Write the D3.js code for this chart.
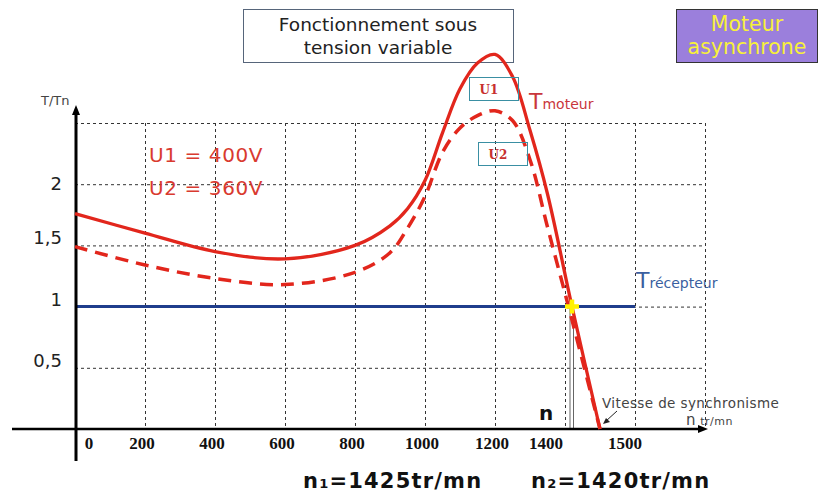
<!DOCTYPE html>
<html><head><meta charset="utf-8">
<script src="https://cdn.jsdelivr.net/npm/d3@7"></script>
<style>body{margin:0;background:#fff}svg{display:block}</style>
</head><body>
<svg id="c" width="821" height="493"></svg>
<script>
// ---- data ----
const speedsU1 = [0,200,400,600,800,900,950,1000,1050,1100,1150,1200,1250,1300,1350,1420,1500];
const torqueU1 = [1.76,1.60,1.45,1.39,1.50,1.66,1.80,2.03,2.42,2.78,2.99,3.06,2.88,2.44,1.92,1.00,0];
const speedsU2 = [0,200,400,600,800,900,950,1000,1050,1100,1150,1200,1250,1300,1350,1410,1500];
const torqueU2 = [1.49,1.34,1.23,1.18,1.28,1.44,1.64,1.90,2.26,2.46,2.56,2.60,2.52,2.20,1.65,1.00,0];
const xTickValues = [0,200,400,600,800,1000,1200,1400,1500];
const xTickLabels = ["0","200","400","600","800","1000","1200","1400","1500"];
const xGridValues = [200,400,600,800,1000,1200,1400,1600,1800];
const yTickValues = [0.5,1,1.5,2];
const yTickLabels = ["0,5","1","1,5","2"];
const yGridValues = [0.5,1,1.5,2,2.5];
const receptorTorque = 1;
const receptorEnd = 1600;
const operatingSpeed = 1420;
const syncSpeed = 1500;

const svg = d3.select("#c");
svg.append("rect").attr("width",821).attr("height",493).attr("fill","#fff");

const x = d3.scaleLinear().domain([0,1800]).range([75,705]);
const y = d3.scaleLinear().domain([0,2.5]).range([429,123]);

const red = "#e2261c";

// title box (drawn under the curves)
svg.append("rect").attr("x",243.5).attr("y",9.5).attr("width",270).attr("height",53).attr("fill","#fff").attr("stroke","#56657a").attr("stroke-width",1);
[["Fonctionnement sous",31],["tension variable",54]].forEach(([t,yy])=>{
  svg.append("text").attr("x",378).attr("y",yy).attr("text-anchor","middle").attr("font-family","DejaVu Sans").attr("font-size",18.5).attr("fill","#222").text(t);
});
// motor box
svg.append("rect").attr("x",676.5).attr("y",9.5).attr("width",141).attr("height",53).attr("fill","#9b7fdc").attr("stroke","#333").attr("stroke-width",1);
[["Moteur",31],["asynchrone",54]].forEach(([t,yy])=>{
  svg.append("text").attr("x",747).attr("y",yy).attr("text-anchor","middle").attr("font-family","DejaVu Sans").attr("font-size",20.5).attr("fill","#f7f03a").text(t);
});

const grid = svg.append("g").attr("stroke","#333").attr("stroke-width",1).attr("stroke-dasharray","3,3");
yGridValues.forEach(v=>{
  grid.append("line").attr("x1",x(0)).attr("x2",x(1800)).attr("y1",y(v)+0.5).attr("y2",y(v)+0.5);
});
xGridValues.forEach(v=>{
  grid.append("line").attr("x1",x(v)+0.5).attr("x2",x(v)+0.5).attr("y1",y(2.5)).attr("y2",y(0));
});

// receptor torque line
svg.append("line").attr("x1",x(0)).attr("x2",x(receptorEnd)).attr("y1",y(receptorTorque)).attr("y2",y(receptorTorque))
  .attr("stroke","#1f3d8c").attr("stroke-width",3);

// operating point double line
[-2,1.5].forEach(d=>{
  svg.append("line").attr("x1",x(operatingSpeed)+d).attr("x2",x(operatingSpeed)+d)
    .attr("y1",y(receptorTorque)).attr("y2",y(0)).attr("stroke","#666").attr("stroke-width",1);
});

// axes
svg.append("line").attr("x1",12).attr("x2",x(1800)-6).attr("y1",y(0)).attr("y2",y(0)).attr("stroke","#000").attr("stroke-width",2.5);
svg.append("path").attr("d",`M${x(1800)+3},${y(0)} l-10,-4 v8 z`).attr("fill","#000");
svg.append("line").attr("x1",x(0)+1).attr("x2",x(0)+1).attr("y1",461).attr("y2",y(2.5)-10).attr("stroke","#000").attr("stroke-width",3);
svg.append("path").attr("d",`M${x(0)+1},${y(2.5)-18} l-4,10 h8 z`).attr("fill","#000");

// curves
const line = d3.line().x(d=>x(d[0])).y(d=>y(d[1])).curve(d3.curveCatmullRom.alpha(0.5));
svg.append("path").datum(d3.zip(speedsU2,torqueU2)).attr("d",line)
  .attr("fill","none").attr("stroke",red).attr("stroke-width",3.5).attr("stroke-dasharray","13,8");
svg.append("path").datum(d3.zip(speedsU1,torqueU1)).attr("d",line)
  .attr("fill","none").attr("stroke",red).attr("stroke-width",3.3);

// yellow cross
const cx = x(operatingSpeed), cy = y(receptorTorque);
svg.append("path").attr("d",`M${cx-7},${cy}H${cx+7}M${cx},${cy-7}V${cy+7}`).attr("stroke","#fff200").attr("stroke-width",4.5);

// tick labels
const xdx = v => v===0 ? 14 : v===1400 ? -19 : v===1500 ? 25 : -3;
svg.append("g").selectAll("text").data(xTickValues).join("text")
  .attr("x",d=>x(d)+xdx(d)).attr("y",449).attr("text-anchor","middle")
  .attr("font-family","Liberation Serif").attr("font-weight","bold").attr("font-size",17).attr("fill","#111")
  .text((d,i)=>xTickLabels[i]);
svg.append("g").selectAll("text").data(yTickValues).join("text")
  .attr("x",62).attr("y",d=>y(d)+ (d===2?6:-1)).attr("text-anchor","end")
  .attr("font-family","DejaVu Sans").attr("font-size",18).attr("fill","#222")
  .text((d,i)=>yTickLabels[i]);

svg.append("text").attr("x",41).attr("y",105).attr("font-family","DejaVu Sans").attr("font-size",13).attr("fill","#444").text("T/Tn");

// voltages
[["U1 = 400V",162],["U2 = 360V",195]].forEach(([t,yy])=>{
  svg.append("text").attr("x",149).attr("y",yy).attr("font-family","DejaVu Sans").attr("font-size",20)
    .attr("letter-spacing",0.6).attr("fill","#d93a2f").text(t);
});

// U1/U2 boxes
[["U1",469,77],["U2",478,142]].forEach(([t,bx,by])=>{
  svg.append("rect").attr("x",bx+0.5).attr("y",by+0.5).attr("width",49).attr("height",23).attr("fill","none").attr("stroke","#3a8fa3").attr("stroke-width",1);
  svg.append("text").attr("x",bx+20).attr("y",by+16.5).attr("text-anchor","middle").attr("font-family","DejaVu Serif").attr("font-weight","bold").attr("font-size",12).attr("fill","#c8302e").text(t);
});

// T moteur / T récepteur
const tm = svg.append("text").attr("x",529).attr("y",109).attr("font-family","DejaVu Sans").attr("fill","#c9363c");
tm.append("tspan").attr("font-size",22).text("T");
tm.append("tspan").attr("font-size",14).text("moteur");
const tr = svg.append("text").attr("x",636).attr("y",288).attr("font-family","DejaVu Sans").attr("fill","#3a5fa0");
tr.append("tspan").attr("font-size",22).text("T");
tr.append("tspan").attr("font-size",14).text("récepteur");

// n label
svg.append("text").attr("x",546).attr("y",420).attr("text-anchor","middle").attr("font-family","DejaVu Sans").attr("font-weight","bold").attr("font-size",20).attr("fill","#111").text("n");

// synchronism annotation
svg.append("text").attr("x",602).attr("y",408).attr("font-family","DejaVu Sans").attr("font-size",13.5).attr("letter-spacing",0.4).attr("fill","#444").text("Vitesse de synchronisme");
svg.append("line").attr("x1",617).attr("y1",411).attr("x2",606).attr("y2",421).attr("stroke","#222").attr("stroke-width",1);
svg.append("path").attr("d","M603,424 l7,-2 l-4,-4 z").attr("fill","#222");
const nu = svg.append("text").attr("x",686).attr("y",425).attr("font-family","DejaVu Sans").attr("fill","#444");
nu.append("tspan").attr("font-size",15).text("n ");
nu.append("tspan").attr("font-size",11).attr("letter-spacing",0.5).text("tr/mn");

// bottom speeds
[["n","1","=1425tr/mn",303],["n","2","=1420tr/mn",531]].forEach(([a,s,b,xx])=>{
  const t = svg.append("text").attr("x",xx).attr("y",488).attr("font-family","DejaVu Sans").attr("font-weight","bold").attr("fill","#111").attr("font-size",21).attr("letter-spacing",1.2);
  t.append("tspan").text(a);
  t.append("tspan").attr("font-size",13).text(s);
  t.append("tspan").text(b);
});
</script>
</body></html>
